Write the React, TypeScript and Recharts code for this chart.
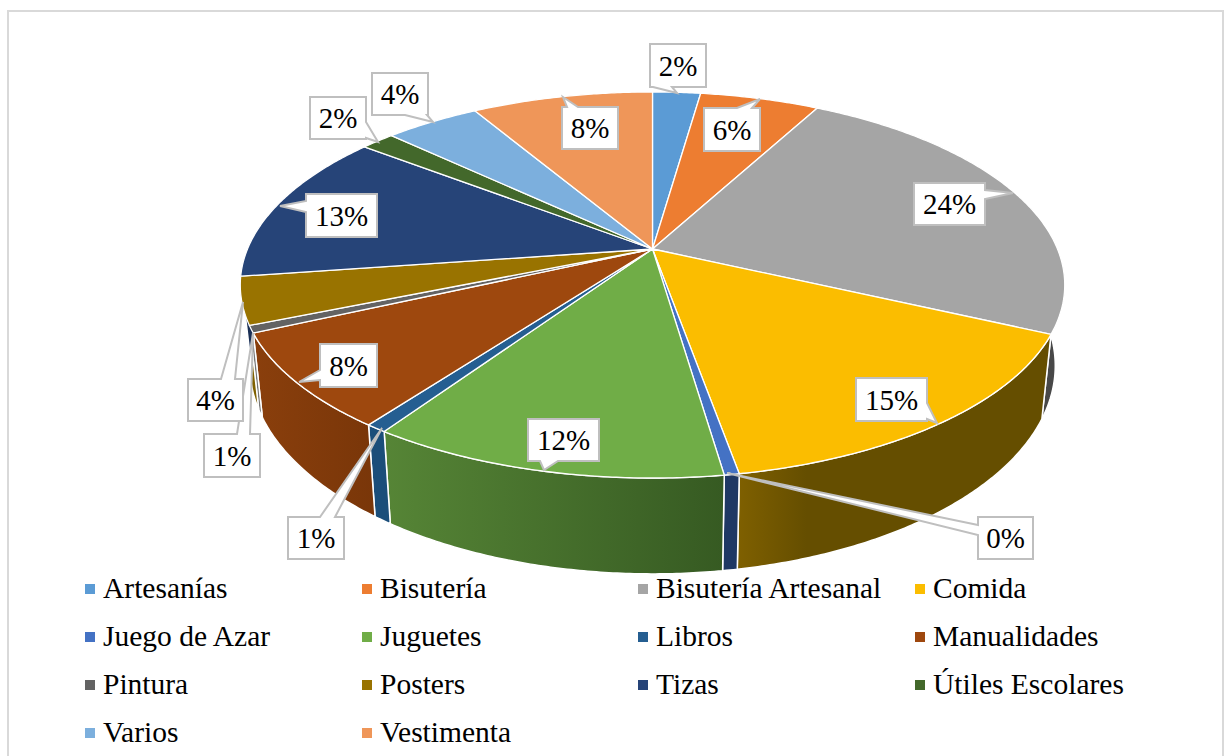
import { PieChart, Pie, Legend } from 'recharts'

const categories = [
  'Artesanías', 'Bisutería', 'Bisutería Artesanal', 'Comida', 'Juego de Azar', 'Juguetes', 'Libros',
  'Manualidades', 'Pintura', 'Posters', 'Tizas', 'Útiles Escolares', 'Varios', 'Vestimenta',
]
const shares = [2.25, 5.6, 24.05, 15.25, 0.49, 11.76, 0.7, 8, 0.6, 3.95, 12.7, 1.6, 4.45, 8.49]
const colors = [
  '#5b9bd5', '#ed7d31', '#a5a5a5', '#fbbd00', '#4472c4', '#70ad47', '#255e91',
  '#9e480e', '#636363', '#997300', '#264478', '#43682b', '#7cafdd', '#ef9659',
]
// side wall shading, left to right
const wallFrom = [
  '#3b6d9a', '#9e5424', '#484848', '#7f6000', '#1f3864', '#568536', '#1b4e7a',
  '#8a3f0c', '#777777', '#7f6000', '#1a2f55', '#2f4a1e', '#5a84aa', '#a86a40',
]
const wallTo = [
  '#3b6d9a', '#9e5424', '#484848', '#654e00', '#1f3864', '#365a22', '#1b4e7a',
  '#793609', '#777777', '#7f6000', '#1a2f55', '#2f4a1e', '#5a84aa', '#a86a40',
]
const wallStop = [1, 1, 1, 0.22, 1, 1, 1, 1, 1, 1, 1, 1, 1, 1]

const data = categories.map((name, i) => ({ name, value: shares[i], fill: colors[i] }))

// perspective of the disc
const CX = 652.5
const CY = 249
const A = 405
const B = 186.3
const K = 0.1865
const DEPTH = 78
const SHRINK = 0.977

function project(angle: number, bottom = false) {
  const t = ((90 - angle) * Math.PI) / 180
  const x = Math.sin(t)
  const y = Math.cos(t)
  const w = 1 + K * y
  if (bottom) return [CX + (SHRINK * A * x) / w, CY - (B * y) / w + DEPTH / w]
  return [CX + (A * x) / w, CY - (B * y) / w]
}

function rim(start: number, end: number, bottom = false) {
  const n = Math.max(2, Math.ceil(Math.abs(end - start) * 2))
  const pts: string[] = []
  for (let i = 0; i <= n; i++) {
    const p = project(start + ((end - start) * i) / n, bottom)
    pts.push(`${p[0].toFixed(2)} ${p[1].toFixed(2)}`)
  }
  return pts
}

function TopFace(props: any) {
  const pts = rim(props.startAngle, props.endAngle)
  return <path d={`M${CX} ${CY}L${pts.join('L')}Z`} fill={props.fill} stroke="#fff" strokeWidth={1.3} strokeLinejoin="round" />
}

function WallFace(props: any) {
  const i = props.index
  const top = rim(props.startAngle, props.endAngle)
  const bottom = rim(props.endAngle, props.startAngle, true)
  return (
    <g>
      <defs>
        <linearGradient id={`wall-${i}`} x1="0" y1="0" x2="1" y2="0">
          <stop offset="0" stopColor={wallFrom[i]} />
          <stop offset={wallStop[i]} stopColor={wallTo[i]} />
        </linearGradient>
      </defs>
      <path d={`M${top.join('L')}L${bottom.join('L')}Z`} fill={`url(#wall-${i})`} stroke="#fff" strokeWidth={1.5} strokeLinejoin="round" />
    </g>
  )
}

// callout boxes: x, y, w, h, tip, and the edge the pointer leaves from
const callouts = [
  { x: 650, y: 44, w: 56, h: 43, tx: 677, ty: 93, edge: 'b', b0: 653, b1: 672 },
  { x: 704, y: 108, w: 56, h: 43, tx: 760, ty: 99, edge: 't', b0: 737, b1: 752 },
  { x: 914, y: 183, w: 71, h: 42, tx: 1013, ty: 193, edge: 'r', b0: 190, b1: 199 },
  { x: 856, y: 378, w: 71, h: 43, tx: 937, ty: 423, edge: 'r', b0: 403, b1: 419 },
  { x: 978, y: 517, w: 55, h: 42, tx: 727, ty: 473, edge: 'l', b0: 525, b1: 535 },
  { x: 528, y: 419, w: 71, h: 42, tx: 544, ty: 470, edge: 'b', b0: 540, b1: 558 },
  { x: 288, y: 517, w: 56, h: 42, tx: 382, ty: 428, edge: 't', b0: 320, b1: 335 },
  { x: 320, y: 344, w: 57, h: 43, tx: 299, ty: 382, edge: 'l', b0: 370, b1: 380 },
  { x: 204, y: 434, w: 56, h: 43, tx: 253, ty: 333, edge: 't', b0: 237, b1: 250 },
  { x: 188, y: 379, w: 55, h: 42, tx: 243, ty: 302, edge: 't', b0: 221, b1: 235 },
  { x: 306, y: 194, w: 71, h: 43, tx: 280, ty: 206, edge: 'l', b0: 201, b1: 212 },
  { x: 310, y: 97, w: 56, h: 42, tx: 378, ty: 142, edge: 'r', b0: 122, b1: 138 },
  { x: 372, y: 73, w: 56, h: 42, tx: 433, ty: 122, edge: 'b', b0: 405, b1: 427 },
  { x: 562, y: 107, w: 56, h: 42, tx: 563, ty: 97, edge: 't', b0: 567, b1: 578 },
]

function calloutPath(c: (typeof callouts)[number]) {
  const r = c.x + c.w
  const b = c.y + c.h
  const tip = `L${c.tx} ${c.ty}`
  const top = c.edge === 't' ? `L${c.b0} ${c.y}${tip}L${c.b1} ${c.y}` : ''
  const right = c.edge === 'r' ? `L${r} ${c.b0}${tip}L${r} ${c.b1}` : ''
  const bottom = c.edge === 'b' ? `L${c.b1} ${b}${tip}L${c.b0} ${b}` : ''
  const left = c.edge === 'l' ? `L${c.x} ${c.b1}${tip}L${c.x} ${c.b0}` : ''
  return `M${c.x} ${c.y}${top}L${r} ${c.y}${right}L${r} ${b}${bottom}L${c.x} ${b}${left}Z`
}

function Callout(props: any) {
  const c = callouts[props.index]
  return (
    <g>
      <path d={calloutPath(c)} fill="#fff" stroke="#bfbfbf" strokeWidth={2} strokeLinejoin="miter" />
      <text
        x={c.x + c.w / 2}
        y={c.y + c.h / 2}
        textAnchor="middle"
        dominantBaseline="central"
        fontFamily="'Liberation Serif'"
        fontSize={29}
        fill="#000"
      >
        {Math.round(shares[props.index])}%
      </text>
    </g>
  )
}

const legendColumns = [85, 362, 638, 915]
const legendRows = [589, 637, 685, 733]

function LegendGrid(props: any) {
  // the wall and top series both report their slices, keep one of each in data order
  const items = (props.payload || [])
    .filter((entry: any, i: number, all: any[]) => all.findIndex((e) => e.value === entry.value) === i)
    .sort((a: any, b: any) => categories.indexOf(a.value) - categories.indexOf(b.value))
  return (
    <div style={{ position: 'relative', width: 1227, height: 756 }}>
      {items.map((entry: any, i: number) => (
        <div key={entry.value}>
          <div
            style={{
              position: 'absolute',
              left: legendColumns[i % 4],
              top: legendRows[Math.floor(i / 4)] - 5,
              width: 10,
              height: 10,
              background: entry.color,
            }}
          />
          <div
            style={{
              position: 'absolute',
              left: legendColumns[i % 4] + 18,
              top: legendRows[Math.floor(i / 4)] - 19,
              height: 36,
              lineHeight: '36px',
              fontFamily: "'Liberation Serif'",
              fontSize: 29.5,
              color: '#000',
              whiteSpace: 'nowrap',
            }}
          >
            {entry.value}
          </div>
        </div>
      ))}
    </div>
  )
}

export default function App() {
  return (
    <div style={{ position: 'absolute', left: 0, top: 0, width: 1227, height: 756, overflow: 'hidden', background: '#fff' }}>
      {/* chart area border runs off the bottom of the picture */}
      <div style={{ position: 'absolute', left: 7, top: 10, width: 1213, height: 780, border: '2px solid #d9d9d9' }} />
      <div style={{ position: 'absolute', left: 0, top: 0 }}>
        <PieChart width={1227} height={756} margin={{ top: 0, right: 0, bottom: 0, left: 0 }}>
          <Pie
            data={data}
            dataKey="value"
            nameKey="name"
            cx={CX}
            cy={CY}
            outerRadius={A}
            startAngle={90}
            endAngle={-270}
            shape={WallFace}
            legendType="none"
            isAnimationActive={false}
          />
          <Pie
            data={data}
            dataKey="value"
            nameKey="name"
            cx={CX}
            cy={CY}
            outerRadius={A}
            startAngle={90}
            endAngle={-270}
            shape={TopFace}
            label={Callout}
            labelLine={false}
            isAnimationActive={false}
          />
          <Legend content={LegendGrid} wrapperStyle={{ left: 0, top: 0, bottom: 'auto', width: 1227, height: 756 }} />
        </PieChart>
      </div>
    </div>
  )
}
